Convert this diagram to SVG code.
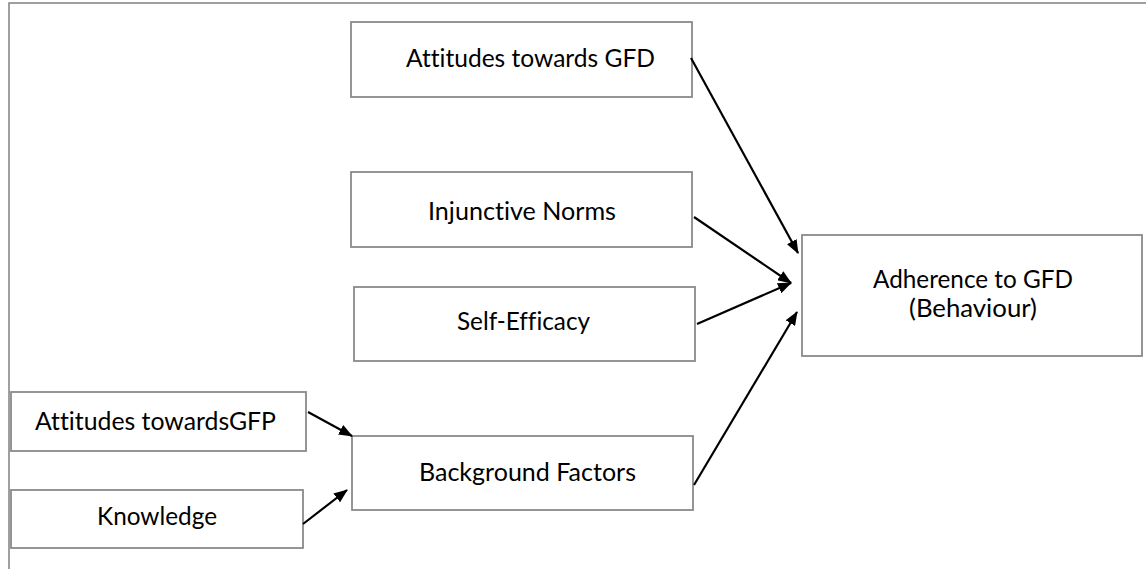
<svg xmlns="http://www.w3.org/2000/svg" width="1146" height="569" viewBox="0 0 1146 569">
  <style>
    .frame { fill: none; stroke: #808080; stroke-width: 1.5; }
    .box { fill: #ffffff; stroke: #8a8a8a; stroke-width: 1.8; }
    .lbl { font-family: Lato, "Open Sans", "Liberation Sans", sans-serif; font-size: 25px; fill: #000000; font-variant-ligatures: none; }
    .edge { fill: none; stroke: #000000; stroke-width: 2.2; marker-end: url(#head); }
  </style>
  <defs>
    <marker id="head" viewBox="0 0 14 11" markerUnits="userSpaceOnUse" markerWidth="14" markerHeight="11" refX="13" refY="5.5" orient="auto">
      <path d="M0,0 L14,5.5 L0,11 z" fill="#000000"/>
    </marker>
  </defs>

  <rect width="1146" height="569" fill="#ffffff"/>
  <!-- page frame: top and left edges only -->
  <path class="frame" d="M9,569 L9,3 L1146,3"/>

  <g id="attitudes-gfd">
    <rect class="box" x="351" y="22" width="341" height="75"/>
    <text class="lbl" x="406" y="67" textLength="249" lengthAdjust="spacingAndGlyphs">Attitudes towards GFD</text>
  </g>

  <g id="injunctive-norms">
    <rect class="box" x="351" y="172" width="341" height="75"/>
    <text class="lbl" x="428" y="220" textLength="188" lengthAdjust="spacingAndGlyphs">Injunctive Norms</text>
  </g>

  <g id="self-efficacy">
    <rect class="box" x="354" y="287" width="341" height="74"/>
    <text class="lbl" x="457" y="330" textLength="133" lengthAdjust="spacingAndGlyphs">Self-Efficacy</text>
  </g>

  <g id="adherence">
    <rect class="box" x="802" y="235" width="340" height="121"/>
    <text class="lbl" x="873" y="288" textLength="200" lengthAdjust="spacingAndGlyphs">Adherence to GFD</text>
    <text class="lbl" x="909" y="317" textLength="128" lengthAdjust="spacingAndGlyphs">(Behaviour)</text>
  </g>

  <g id="background-factors">
    <rect class="box" x="352" y="436" width="341" height="74"/>
    <text class="lbl" x="419" y="481" textLength="217" lengthAdjust="spacingAndGlyphs">Background Factors</text>
  </g>

  <g id="attitudes-gfp">
    <rect class="box" x="11" y="392" width="295" height="59"/>
    <text class="lbl" x="35" y="430" textLength="241" lengthAdjust="spacingAndGlyphs">Attitudes towardsGFP</text>
  </g>

  <g id="knowledge">
    <rect class="box" x="11" y="490" width="292" height="58"/>
    <text class="lbl" x="97" y="525" textLength="120" lengthAdjust="spacingAndGlyphs">Knowledge</text>
  </g>

  <g id="connectors">
    <path class="edge" d="M691,58 L798,253"/>
    <path class="edge" d="M694,217 L791,283"/>
    <path class="edge" d="M697,324 L791,283"/>
    <path class="edge" d="M694,485 L797,312"/>
    <path class="edge" d="M308,412 L352,436"/>
    <path class="edge" d="M303,524 L347,490"/>
  </g>
</svg>
